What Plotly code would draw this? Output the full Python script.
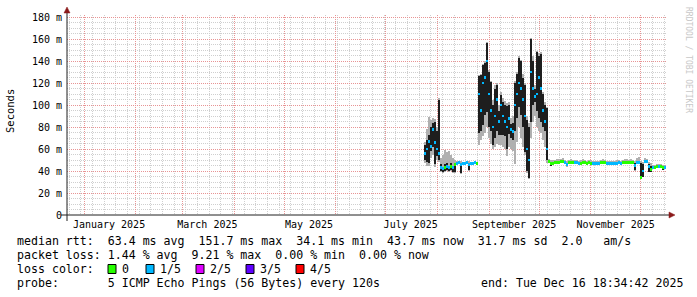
import plotly.graph_objects as go
from datetime import datetime, timedelta

# ---------------- time window ----------------
END = datetime(2025, 12, 16, 18, 34, 42)
START = END - timedelta(days=360)
FIRST_SAMPLE = START + timedelta(days=214.8)   # first consolidated column with data
STEP_DAYS = 1.2                                  # consolidation step of the columns

# ---------------- data ----------------
median = [56, 60, 67, 62, 78, 66, 60, 56, 43, 42, 43, 44, 43, 44, 43, 46,
          47, 47.5, 46, 47, 47, 47.5, 46, 47, 47, 47.5, 47,
          110, 95, 120, 125, 140, 110, 95, 80, 90, 105, 85, 100, 90, 85, 80, 88, 78, 76,
          100, 110, 120, 115, 105, 90, 60, 50, 130, 115, 108, 110, 125, 115, 95, 85, 60,
          48.5, 46.5, 47, 47.5, 48, 48, 48.5, 49, 47.5, 46, 47.5, 48, 48, 47.5, 47.5, 47,
          47, 47.5, 47.5, 47, 47.5, 47, 47, 47, 46.5, 47, 47.5, 48, 47.5, 47, 46.5, 46.5,
          47, 47, 47, 47.5, 47, 47.5, 48, 48, 47.5, 48, 47.5,
          45, 48, 47.5, 34, 40, 49, 48.5, 44, 41, 43, 43, 44, 44, 44, 43, 43.5]

black_lo = [50, 48, 47, 58, 62, 46, 54, 50, 40, 39, 40, 41, 40, 41, 39, 39,
            None, None, 38, None, None, None, 41, None, None, None, None,
            75, 76, 82, 91, 94, 80, 76, 64, 70, 76, 73, 73, 73, 72, 60, 74, 70, 68,
            76, 88, 98, 91, 80, 57, 40, 34, 85, 100, 103, 95, 88, 85, 80, 76, 50,
            None, 45, None, None, None, None, None, None, None, 44.5, None, None, None, None, None, None,
            None, None, None, None, None, None, None, None, None, None, None, None, None, None, None, None,
            None, None, None, None, None, None, None, None, None, None, None,
            40.5, None, None, 34, 35, None, None, 39.5, 39.5, None, None, None, None, None, 41, None]

black_hi = [64, 68, 73, 80, 84, 85, 76, 105, 46, 44, 46, 47, 45, 47, 45, 47,
            None, None, 47, None, None, None, 47, None, None, None, None,
            126, 127, 136, 138, 156, 130, 121, 100, 115, 118, 95, 109, 103, 100, 99, 100, 83, 84,
            120, 128, 143, 140, 125, 118, 86, 80, 160, 140, 115, 148, 145, 146, 110, 100, 97,
            None, 47.5, None, None, None, None, None, None, None, 47, None, None, None, None, None, None,
            None, None, None, None, None, None, None, None, None, None, None, None, None, None, None, None,
            None, None, None, None, None, None, None, None, None, None, None,
            47, None, None, 47, 46, None, None, 46, 45, None, None, None, None, None, 44, None]

smoke_lo = [47, 45, 45, 52, 55, 44, 50, 48, 39, 38, 39, 40, 39, 40, 38, 38,
            46, 46, 37, 46, 46, 46, 40, 46, 46, 46, 46,
            64, 68, 72, 75, 80, 70, 65, 60, 62, 65, 64, 64, 62, 60, 54, 62, 60, 58,
            46, 66, 80, 70, 62, 55, 38, 33, 70, 85, 90, 80, 76, 75, 68, 62, 47,
            47, 44.5, 46, 46.5, 47, 47, 47, 47.5, 46.5, 44, 46.5, 47, 47, 46.5, 46.5, 46,
            46, 46.5, 46.5, 46, 46.5, 46, 46, 46, 45.5, 46, 46.5, 47, 46.5, 46, 45.5, 45.5,
            46, 46, 46, 46.5, 46, 46.5, 47, 47, 46.5, 47, 46.5,
            40, 47, 46.5, 33.5, 34.5, 48, 47.5, 39, 39, 42, 42, 43, 43, 43, 40.5, 42.5]

smoke_hi = [66, 78, 89, 86, 88, 87, 80, 106, 52, 55, 59, 57, 58, 55, 52, 50,
            49, 49, 49, 48.5, 48.5, 49, 49, 48.5, 48.5, 49, 48.5,
            127, 128, 137, 140, 157, 132, 122, 105, 118, 120, 100, 112, 106, 104, 102, 103, 88, 90,
            122, 130, 145, 141, 128, 120, 90, 84, 161, 145, 118, 149, 147, 148, 112, 103, 98,
            50.5, 50, 50, 50, 50.5, 51, 51, 51.5, 50, 49.5, 50, 50.5, 50, 50, 50, 49.5,
            50, 50.5, 50, 49.5, 50, 50, 49.5, 49.5, 49, 49.5, 50, 50.5, 50, 49.5, 49, 49,
            49.5, 49.5, 50, 50, 49.5, 50, 50.5, 50.5, 50, 50.5, 50,
            49, 52, 53, 49, 48, 52, 51, 48, 47, 45.5, 45.5, 46, 46.5, 46, 45.5, 45.5]

loss = [1, 1, 1, 1, 1, 1, 1, 1, 1, 1, 0, 1, 1, 0, 1, 0,
        1, 1, 1, 1, 1, 1, 1, 1, 1, 1, 0,
        1, 1, 1, 1, 1, 1, 1, 1, 1, 1, 1, 1, 1, 1, 1, 1, 1, 1,
        1, 1, 1, 1, 1, 1, 1, 1, 1, 1, 1, 1, 1, 1, 1, 1, 1,
        0, 0, 0, 0, 0, 0, 0, 0, 1, 1, 0, 0, 0, 1, 1, 1,
        0, 0, 0, 0, 0, 0, 1, 1, 1, 1, 0, 0, 0, 1, 1, 1,
        1, 1, 1, 1, 1, 0, 0, 0, 0, 0, 0,
        1, 1, 1, 0, 1, 1, 1, 1, 0, 1, 0, 0, 1, 0, 0, 1]

loss_colors = ["#26ff00", "#00b8ff", "#dd00ff", "#5e00ff", "#ff0000"]
loss_labels = ["0", "1/5", "2/5", "3/5", "4/5"]

y_tickvals = [0, 20, 40, 60, 80, 100, 120, 140, 160, 180]
y_ticktext = ["0", "20 m", "40 m", "60 m", "80 m", "100 m", "120 m", "140 m", "160 m", "180 m"]

x_label_dates = ["2025-01-16", "2025-03-16", "2025-05-16", "2025-07-16", "2025-09-16", "2025-11-16"]
x_label_text = ["January 2025", "March 2025", "May 2025", "July 2025", "September 2025", "November 2025"]

legend_lines = [
    "median rtt:  63.4 ms avg  151.7 ms max  34.1 ms min  43.7 ms now  31.7 ms sd  2.0   am/s",
    "packet loss: 1.44 % avg  9.21 % max  0.00 % min  0.00 % now",
    "loss color:",
    "probe:       5 ICMP Echo Pings (56 Bytes) every 120s",
]
end_text = "end: Tue Dec 16 18:34:42 2025"

# ---------------- geometry helpers (pixel -> paper) ----------------
W, H = 697, 297
L, R, T, B = 67, 30, 15, 82
PW, PH = W - L - R, H - T - B


def px(x):
    return (x - L) / PW


def py(y):
    return (H - B - y) / PH


MONO = "DejaVu Sans Mono"
n = len(median)
times = [FIRST_SAMPLE + timedelta(days=STEP_DAYS * i) for i in range(n)]
step_ms = STEP_DAYS * 86400000

fig = go.Figure()

# gray smoke
fig.add_trace(go.Bar(
    x=times, y=[h - l for l, h in zip(smoke_lo, smoke_hi)], base=smoke_lo,
    width=step_ms * 0.75, marker=dict(color="#b0b0b0", line=dict(width=0)),
    hoverinfo="skip", showlegend=False))

# dark smoke core
bi = [i for i in range(n) if black_lo[i] is not None]
fig.add_trace(go.Bar(
    x=[times[i] for i in bi], y=[black_hi[i] - black_lo[i] for i in bi],
    base=[black_lo[i] for i in bi],
    width=step_ms * 0.6, marker=dict(color="#1e1e1e", line=dict(width=0)),
    hoverinfo="skip", showlegend=False))

# median coloured by loss
MED_H = 2.6
fig.add_trace(go.Bar(
    x=times, y=[MED_H] * n, base=[m - MED_H / 2 for m in median],
    width=step_ms, marker=dict(color=[loss_colors[k] for k in loss], line=dict(width=0)),
    hoverinfo="skip", showlegend=False))

# helper trace for label axis
fig.add_trace(go.Scatter(x=[], y=[], xaxis="x2", yaxis="y", showlegend=False, hoverinfo="skip"))

MAJ = "#e89494"
MIN = "#cfcfcf"

fig.update_layout(
    width=W, height=H,
    margin=dict(l=L, r=R, t=T, b=B, pad=0),
    paper_bgcolor="#ffffff", plot_bgcolor="#ffffff",
    barmode="overlay", bargap=0, showlegend=False,
    font=dict(family=MONO, size=10, color="#000000"),
    xaxis=dict(
        type="date", range=[START, END], showticklabels=False, ticks="",
        showgrid=True, gridcolor=MAJ, griddash="1px,1px", gridwidth=1,
        dtick="M1", tick0="2025-01-01",
        minor=dict(showgrid=True, gridcolor=MIN, griddash="1px,1px", gridwidth=1,
                   dtick=7 * 86400000, tick0="2024-12-23"),
        zeroline=False, showline=False, fixedrange=True,
    ),
    xaxis2=dict(
        type="date", range=[START, END], overlaying="x", anchor="y", side="bottom",
        tickmode="array", tickvals=x_label_dates, ticktext=x_label_text,
        showgrid=False, zeroline=False, showline=False, ticks="",
        tickfont=dict(family=MONO, size=10, color="#000000"), ticklabelstandoff=2,
    ),
    yaxis=dict(
        range=[0, 200 / 1.1], tickmode="array", tickvals=y_tickvals, ticktext=y_ticktext,
        showgrid=True, gridcolor=MAJ, griddash="1px,1px", gridwidth=1,
        minor=dict(showgrid=True, gridcolor=MIN, griddash="1px,1px", gridwidth=1, dtick=5, tick0=0),
        zeroline=False, showline=False, ticks="",
        tickfont=dict(family=MONO, size=10, color="#000000"), ticklabelstandoff=4,
    ),
)

shapes = []
AX = "#202020"
ARROW = "#8b1a1a"
# axes
shapes.append(dict(type="line", xref="paper", yref="paper", x0=px(61), x1=px(669), y0=py(215), y1=py(215),
                   line=dict(color=AX, width=1)))
shapes.append(dict(type="line", xref="paper", yref="paper", x0=px(67), x1=px(67), y0=py(221), y1=py(12),
                   line=dict(color=AX, width=1)))
# arrows
shapes.append(dict(type="path", xref="paper", yref="paper",
                   path=f"M {px(64)},{py(13)} L {px(70)},{py(13)} L {px(67)},{py(7)} Z",
                   fillcolor=ARROW, line=dict(color=ARROW, width=0.5)))
shapes.append(dict(type="path", xref="paper", yref="paper",
                   path=f"M {px(669)},{py(212)} L {px(669)},{py(218)} L {px(675)},{py(215)} Z",
                   fillcolor=ARROW, line=dict(color=ARROW, width=0.5)))

annotations = []
LEG_SIZE = 11.6
line_y = [241, 255, 269, 283]
for txt, yy in zip(legend_lines, line_y):
    annotations.append(dict(text=txt.replace(" ", "\u00a0"), xref="paper", yref="paper",
                            x=px(15), y=py(yy), xanchor="left", yanchor="middle", showarrow=False,
                            font=dict(family=MONO, size=LEG_SIZE, color="#000000")))
annotations.append(dict(text=end_text.replace(" ", "\u00a0"), xref="paper", yref="paper",
                        x=px(685), y=py(283), xanchor="right", yanchor="middle", showarrow=False,
                        font=dict(family=MONO, size=LEG_SIZE, color="#000000")))

# loss colour boxes
box_x = [108, 146, 196, 246, 296]
for bx, col, lab in zip(box_x, loss_colors, loss_labels):
    shapes.append(dict(type="rect", xref="paper", yref="paper",
                       x0=px(bx), x1=px(bx + 8), y0=py(273.5), y1=py(264.5),
                       fillcolor=col, line=dict(color="#000000", width=1)))
    annotations.append(dict(text=lab, xref="paper", yref="paper", x=px(bx + 12), y=py(269),
                            xanchor="left", yanchor="middle", showarrow=False,
                            font=dict(family=MONO, size=LEG_SIZE, color="#000000")))

# y axis title
annotations.append(dict(text="Seconds", xref="paper", yref="paper", x=px(10), y=py(111),
                        xanchor="center", yanchor="middle", textangle=-90, showarrow=False,
                        font=dict(family=MONO, size=10.5, color="#000000")))
# watermark
annotations.append(dict(text="RRDTOOL / TOBI OETIKER", xref="paper", yref="paper", x=px(688), y=py(60),
                        xanchor="center", yanchor="middle", textangle=90, showarrow=False,
                        font=dict(family=MONO, size=8, color="#c8c8c8")))

fig.update_layout(shapes=shapes, annotations=annotations)
fig.write_html("out.html")
